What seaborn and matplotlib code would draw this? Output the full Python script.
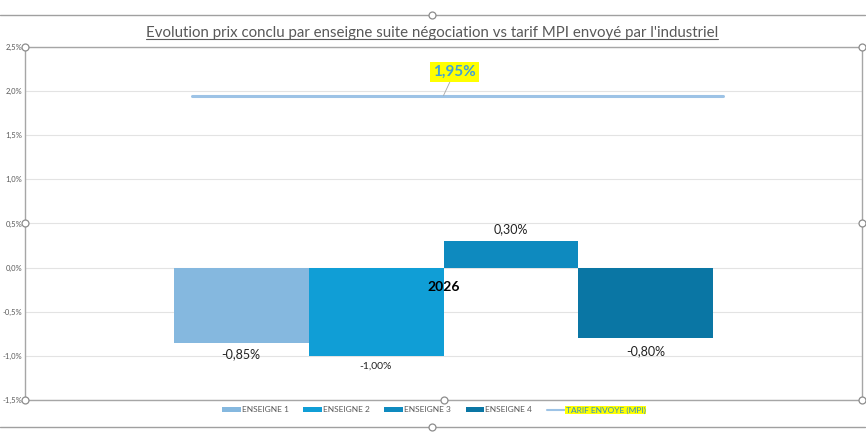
import matplotlib
matplotlib.use("Agg")
import matplotlib.pyplot as plt
import seaborn as sns
import pandas as pd
from matplotlib.lines import Line2D
from matplotlib.patches import Patch

# ---- data ----
categories = ["2026"]
enseignes = ["ENSEIGNE 1", "ENSEIGNE 2", "ENSEIGNE 3", "ENSEIGNE 4"]
valeurs = [-0.85, -1.00, 0.30, -0.80]
bar_labels = ["-0,85%", "-1,00%", "0,30%", "-0,80%"]
tarif_mpi = 1.95
tarif_text = "1,95%"
tarif_label = "TARIF ENVOYE (MPI)"
yticks = [-1.5, -1.0, -0.5, 0.0, 0.5, 1.0, 1.5, 2.0, 2.5]
ytick_labels = ["-1,5%", "-1,0%", "-0,5%", "0,0%", "0,5%", "1,0%", "1,5%", "2,0%", "2,5%"]
title = "Evolution prix conclu par enseigne suite négociation vs tarif MPI envoyé par l'industriel"

colors = ["#85B8DF", "#109ED6", "#0E8ABF", "#0A76A4"]
line_color = "#9DC3E6"
frame_color = "#A6A6A6"
text_gray = "#595959"

sns.set_theme(style="white")
plt.rcParams['font.family'] = ['Lato', 'DejaVu Sans']

W, H = 866, 440
fig = plt.figure(figsize=(W / 100, H / 100), dpi=100)
fig.patch.set_facecolor("white")
ax = fig.add_axes([25 / W, 1 - 400 / H, (862 - 25) / W, (400 - 47) / H])

df = pd.DataFrame({"annee": categories * len(enseignes), "enseigne": enseignes, "valeur": valeurs})
sns.barplot(data=df, x="annee", y="valeur", hue="enseigne", hue_order=enseignes,
            palette=colors, width=0.645, saturation=1, errorbar=None,
            legend=False, ax=ax)
for p in ax.patches:
    p.set_edgecolor("none")

ax.set_xlim(-0.5, 0.5)
ax.set_ylim(yticks[0], yticks[-1])
ax.set_yticks(yticks)
ax.set_yticklabels(ytick_labels, fontsize=5.5, color=text_gray)
ax.tick_params(axis="y", length=0, pad=2)
ax.set_xticks([])
ax.set_xlabel("")
ax.set_ylabel("")
ax.yaxis.grid(True, color="#E3E3E3", lw=0.8)
ax.set_axisbelow(True)
for s in ax.spines.values():
    s.set_visible(True)
    s.set_color(frame_color)
    s.set_linewidth(1.0)

# bar data labels
sizes = [9, 7.5, 9, 9]
pads = [4, 4, 4, 5]
for cont, lab, fs, pd_ in zip(ax.containers, bar_labels, sizes, pads):
    ax.bar_label(cont, labels=[lab], padding=pd_, fontsize=fs, color="#222222")

# category label at the zero line
ax.annotate(categories[0], xy=(0, 0), xytext=(0, -13.7), textcoords="offset points",
            ha="center", va="center", fontsize=10, fontweight="bold", color="black")

# tarif line
ax.axhline(tarif_mpi, xmin=0.2, xmax=0.834, color=line_color, lw=2.2, zorder=3)
ax.annotate(tarif_text, xy=(0.0, tarif_mpi), xytext=(8, 17), textcoords="offset points",
            ha="center", va="center", fontsize=11, fontweight="bold", color="#3FA0D8",
            bbox=dict(boxstyle="square,pad=0.2", fc="#FFFF00", ec="none"),
            arrowprops=dict(arrowstyle="-", color="#A6A6A6", lw=0.6, shrinkA=0, shrinkB=0))

# selection handles of the plot area
hx = [0, 0, 0, 1, 1, 1, 0.5]
hy = [0, 0.5, 1, 0, 0.5, 1, 0]
ax.plot(hx, hy, ls="none", marker="o", ms=5, mfc="white", mec="#8C8C8C", mew=0.9,
        transform=ax.transAxes, clip_on=False, zorder=10)

# outer chart frame lines
for yy in (15, 427):
    fig.add_artist(Line2D([0, 865 / W], [1 - yy / H] * 2, color="#A0A0A0", lw=1.0))
    fig.add_artist(Line2D([432 / W], [1 - yy / H], ls="none", marker="o", ms=5,
                          mfc="white", mec="#8C8C8C", mew=0.9))

# title (underlined)
t = fig.text(432 / W, 1 - 33 / H, title, ha="center", va="center", fontsize=10.85, color=text_gray)
fig.canvas.draw()
bb = t.get_window_extent(fig.canvas.get_renderer())
fig.add_artist(Line2D([bb.x0 / W, bb.x1 / W], [(bb.y0 + 0.5) / H] * 2, color=text_gray, lw=0.8))

# legend
handles = [Patch(facecolor=c, edgecolor="none") for c in colors]
handles.append(Line2D([0], [0], color=line_color, lw=1.5))
labels = enseignes + [tarif_label]
leg = fig.legend(handles, labels, loc="center", bbox_to_anchor=(434 / W, 1 - 410 / H),
                 ncol=5, fontsize=6, frameon=False, handlelength=2.2, handleheight=0.6,
                 handletextpad=0.1, columnspacing=1.8, borderaxespad=0)
for txt in leg.get_texts():
    txt.set_color(text_gray)
lt = leg.get_texts()[-1]
lt.set_color("#2E8FC8")
lt.set_bbox(dict(boxstyle="square,pad=0.05", fc="#FFFF00", ec="none"))

fig.savefig("out.png", dpi=100, facecolor="white")
